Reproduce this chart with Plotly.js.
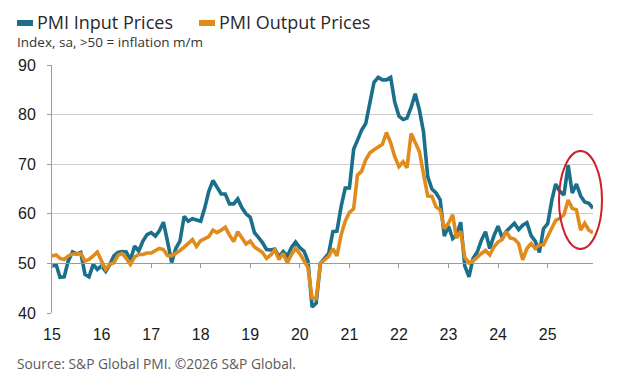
<!DOCTYPE html>
<html>
<head>
<meta charset="utf-8">
<script src="https://cdn.plot.ly/plotly-3.0.1.min.js"></script>
<style>html,body{margin:0;padding:0;background:#fff;}#chart{width:618px;height:388px;}</style>
</head>
<body>
<div id="chart"></div>
<script>
// ---- data (monthly, Jan 2015 - Dec 2025) ----
const yearLabels = ['15','16','17','18','19','20','21','22','23','24','25'];
const startYear = 2015;
const inputPrices = [
  49.5, 49.7, 47.2, 47.3, 50.5, 52.3, 51.9, 52.2, 47.8, 47.3, 49.8, 48.8,
  49.5, 48.4, 49.7, 51.5, 52.2, 52.4, 52.3, 50.7, 53.5, 52.5, 54.5, 55.8,
  56.2, 55.5, 56.5, 58.3, 54.5, 50.2, 53.0, 54.5, 59.5, 58.5, 59.0, 58.8,
  58.5, 61.3, 64.5, 66.7, 65.2, 64.0, 64.0, 62.0, 62.0, 63.0, 61.2, 60.0,
  59.3, 56.2, 55.3, 54.2, 52.8, 52.7, 52.9, 51.3, 52.4, 51.5, 53.2, 54.3,
  53.2, 52.5, 50.5, 41.2, 42.0, 50.0, 51.0, 52.0, 56.4, 56.5, 61.5, 65.2,
  65.2, 73.0, 74.8, 76.9, 78.2, 82.5, 86.5, 87.5, 87.0, 87.0, 87.5, 82.5,
  79.7, 79.0, 79.3, 81.5, 84.2, 80.9, 76.5, 67.5, 65.0, 64.2, 62.8, 55.5,
  57.5, 55.0, 55.7, 58.3, 49.5, 47.3, 51.0, 52.3, 54.7, 56.4, 53.0, 55.5,
  57.5, 55.2, 56.4, 57.3, 58.1, 56.8, 57.7, 58.2, 55.6, 54.5, 52.2, 57.0,
  58.0, 62.8, 66.0, 64.5, 63.8, 69.8, 64.2, 66.0, 63.6, 62.4, 62.1, 61.1
];
const outputPrices = [
  51.5, 51.7, 51.0, 50.8, 51.5, 51.9, 51.9, 52.0, 50.5, 50.8, 51.5, 52.3,
  50.5, 48.8, 49.8, 50.1, 51.6, 52.0, 51.0, 49.8, 51.3, 51.8, 51.8, 52.1,
  52.1, 52.5, 53.0, 52.8, 51.6, 51.5, 52.0, 52.6, 53.3, 54.0, 54.8, 53.4,
  54.6, 55.0, 55.4, 56.7, 56.2, 56.7, 57.3, 55.7, 54.4, 56.4, 55.0, 53.9,
  54.5, 53.3, 52.8, 52.2, 51.0, 51.7, 52.7, 50.8, 52.0, 50.1, 51.8, 53.0,
  52.0, 50.5, 49.2, 43.0, 42.9, 50.0, 50.7, 51.4, 53.0, 51.5, 55.8, 58.5,
  60.3, 61.0, 67.8, 68.6, 70.9, 72.3, 72.9, 73.4, 74.0, 76.4, 74.3, 71.5,
  69.5, 70.5, 69.3, 76.2, 74.5, 72.5, 68.0, 63.6, 63.5, 61.4, 60.8, 57.0,
  58.1, 59.8, 55.1, 56.5, 51.2, 50.1, 50.5, 51.3, 52.0, 52.6, 51.7, 53.3,
  54.3, 54.8, 56.4, 55.1, 54.9, 54.0, 50.7, 53.0, 54.0, 53.0, 53.7, 53.7,
  55.5, 57.5, 58.7, 59.1, 59.8, 62.8, 61.1, 60.8, 56.7, 58.1, 56.7, 56.2
];
const seriesNames = ['PMI Input Prices', 'PMI Output Prices'];
const subtitle = 'Index, sa, >50 = inflation m/m';
const sourceText = 'Source: S&P Global PMI. \u00A92026 S&P Global.';

// ---- derived ----
const months = inputPrices.map((_, i) => {
  const y = startYear + Math.floor(i / 12);
  const m = (i % 12) + 1;
  return y + '-' + String(m).padStart(2, '0') + '-01';
});
const tickVals = yearLabels.map((_, i) => (startYear + i) + '-01-01');
const xRange = [months[0], months[months.length - 1]];

const TEAL = '#1a6f8b';
const ORANGE = '#e08b1c';
const W = 618, H = 388, L = 52, R = 25, T = 65, B = 75;
const PW = W - L - R, PH = H - T - B;
const px = x => (x - L) / PW;
const py = y => (H - B - y) / PH;

const traces = [
  {x: months, y: inputPrices, type: 'scatter', mode: 'lines', name: seriesNames[0],
   line: {color: TEAL, width: 3.6}, hoverinfo: 'skip'},
  {x: months, y: outputPrices, type: 'scatter', mode: 'lines', name: seriesNames[1],
   line: {color: ORANGE, width: 3.6}, hoverinfo: 'skip'},
  {x: months, y: inputPrices, type: 'scatter', mode: 'none', xaxis: 'x2',
   showlegend: false, hoverinfo: 'skip'}
];

const tickFont = {family: 'Liberation Sans, Arial, sans-serif', size: 16, color: '#1a1a1a'};
const textFont = 'Open Sans, Liberation Sans, sans-serif';

const layout = {
  width: W, height: H,
  margin: {l: L, r: R, t: T, b: B, pad: 0},
  paper_bgcolor: '#ffffff', plot_bgcolor: '#ffffff',
  showlegend: false,
  xaxis: {
    type: 'date', range: xRange, tickvals: tickVals, ticktext: yearLabels,
    showgrid: false, showline: false, zeroline: false, ticks: '',
    tickfont: tickFont, ticklabelstandoff: 10, fixedrange: true
  },
  xaxis2: {
    type: 'date', range: xRange, overlaying: 'x', anchor: 'free', position: 0.2,
    side: 'bottom', tickvals: tickVals, showticklabels: false,
    ticks: 'outside', ticklen: 4, tickcolor: '#9a9a9a', tickwidth: 1,
    showline: true, linecolor: '#9a9a9a', linewidth: 1,
    showgrid: false, zeroline: false, fixedrange: true
  },
  yaxis: {
    range: [40, 90], tick0: 40, dtick: 10,
    showline: true, linecolor: '#9a9a9a', linewidth: 1,
    ticks: 'outside', ticklen: 4, tickcolor: '#9a9a9a',
    gridcolor: '#cdcdcd', gridwidth: 1, zeroline: false,
    tickfont: tickFont, ticklabelstandoff: 8, fixedrange: true
  },
  shapes: [
    {type: 'rect', xref: 'paper', yref: 'paper', x0: px(17), x1: px(33), y0: py(20), y1: py(26),
     fillcolor: TEAL, line: {width: 0}},
    {type: 'rect', xref: 'paper', yref: 'paper', x0: px(199), x1: px(215), y0: py(20), y1: py(26),
     fillcolor: ORANGE, line: {width: 0}},
    {type: 'circle', xref: 'paper', yref: 'paper', x0: px(559), x1: px(602), y0: py(151), y1: py(249),
     line: {color: '#cc1f27', width: 2}}
  ],
  annotations: [
    {text: seriesNames[0], xref: 'paper', yref: 'paper', x: px(35), y: py(22),
     xanchor: 'left', yanchor: 'middle', showarrow: false,
     font: {family: textFont, size: 18, color: '#2a2a2a'}},
    {text: seriesNames[1], xref: 'paper', yref: 'paper', x: px(217), y: py(22),
     xanchor: 'left', yanchor: 'middle', showarrow: false,
     font: {family: textFont, size: 18, color: '#2a2a2a'}},
    {text: subtitle, xref: 'paper', yref: 'paper', x: px(15), y: py(42),
     xanchor: 'left', yanchor: 'middle', showarrow: false,
     font: {family: textFont, size: 13.5, color: '#333333'}},
    {text: sourceText, xref: 'paper', yref: 'paper', x: px(15), y: py(363),
     xanchor: 'left', yanchor: 'middle', showarrow: false,
     font: {family: textFont, size: 13.8, color: '#5a5a5a'}}
  ]
};

Plotly.newPlot('chart', traces, layout, {staticPlot: true, displayModeBar: false});
</script>
</body>
</html>
